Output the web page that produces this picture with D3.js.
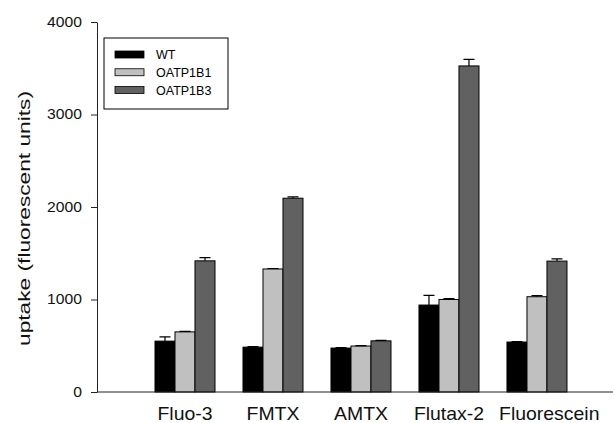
<!DOCTYPE html>
<html>
<head>
<meta charset="utf-8">
<script src="https://cdn.jsdelivr.net/npm/d3@7"></script>
<style>
  body { margin: 0; background: #fff; }
  text { font-family: "Liberation Sans", Arial, sans-serif; }
</style>
</head>
<body>
<svg width="615" height="423"></svg>
<script>
// data
var compounds = ["Fluo-3", "FMTX", "AMTX", "Flutax-2", "Fluorescein"];
var seriesNames = ["WT", "OATP1B1", "OATP1B3"];
var wtValues = [550, 485, 475, 940, 540];
var wtErrors = [45, 5, 5, 105, 5];
var b1Values = [650, 1330, 497, 1000, 1030];
var b1Errors = [5, 5, 5, 10, 12];
var b3Values = [1418, 2095, 553, 3525, 1415];
var b3Errors = [35, 15, 5, 70, 25];
var yTicks = [0, 1000, 2000, 3000, 4000];
var colors = ["#000000", "#c0c0c0", "#616161"];

var svg = d3.select("svg");
var margins = { top: 22, left: 97, right: 2, bottom: 31 };
var width = 615 - margins.left - margins.right;
var height = 423 - margins.top - margins.bottom;

var series = [
  { name: seriesNames[0], values: wtValues, errors: wtErrors },
  { name: seriesNames[1], values: b1Values, errors: b1Errors },
  { name: seriesNames[2], values: b3Values, errors: b3Errors }
];

// group centres sit at 1..5 on a linear scale
var xScale = d3.scaleLinear().domain([0, 5.864]).range([0, width]);
var yScale = d3.scaleLinear().domain([0, 4000]).range([height, 0]);
var barW = 20;

var g = svg.append("g").attr("transform", `translate(${margins.left},${margins.top})`);

// bars
series.forEach(function (s, si) {
  var sg = g.append("g");
  sg.selectAll("rect").data(s.values).enter().append("rect")
    .attr("x", function (d, i) { return xScale(i + 1) + (si - 1.5) * barW; })
    .attr("y", function (d) { return yScale(d); })
    .attr("width", barW)
    .attr("height", function (d) { return height - yScale(d); })
    .attr("fill", colors[si])
    .attr("stroke", "#000")
    .attr("stroke-width", 1);

  // upward error bars
  sg.selectAll("path.err").data(s.values).enter().append("path")
    .attr("class", "err")
    .attr("d", function (d, i) {
      var cx = xScale(i + 1) + (si - 1) * barW;
      var top = yScale(d + s.errors[i]);
      return `M${cx},${yScale(d)}V${top}M${cx - 5.5},${top}H${cx + 5.5}`;
    })
    .attr("stroke", "#000")
    .attr("stroke-width", 1.2)
    .attr("fill", "none");
});

// y axis
var yAxis = g.append("g")
  .call(d3.axisLeft(yScale).tickValues(yTicks).tickFormat(d3.format("d"))
    .tickSize(6).tickPadding(0).tickSizeOuter(0));
yAxis.select(".domain").attr("stroke", "#222");
yAxis.selectAll(".tick line").attr("stroke", "#222");
yAxis.selectAll(".tick text")
  .attr("x", null)
  .attr("font-size", 14).attr("fill", "#111")
  .attr("font-family", "Liberation Sans, Arial, sans-serif")
  .attr("transform", "translate(-15,0) scale(1.12,1)");

// x axis line and labels
g.append("line")
  .attr("x1", 0).attr("x2", width)
  .attr("y1", height).attr("y2", height)
  .attr("stroke", "#222");

var xlabs = g.selectAll("text.xlab").data(compounds).enter().append("text")
  .attr("class", "xlab")
  .attr("text-anchor", "middle")
  .attr("font-size", 18)
  .attr("fill", "#111")
  .text(function (d) { return d; });

// keep labels inside the axis end: shift the last one left-aligned if it would run over
xlabs.attr("transform", function (d, i) {
  var cx = xScale(i + 1);
  var w = this.getComputedTextLength() * 1.08;
  var maxRight = width - 6;
  var prevRight = i > 0 ? xScale(i) + 40 : -Infinity;
  if (cx - w / 2 < prevRight + 10) cx = prevRight + 10 + w / 2;
  if (cx + w / 2 > maxRight) cx = maxRight - w / 2;
  return `translate(${cx},${height + 28}) scale(1.08,1)`;
});

// y axis title
svg.append("text")
  .attr("transform", "translate(30," + 218.5 + ") rotate(-90)")
  .attr("text-anchor", "middle")
  .attr("font-size", 17)
  .attr("fill", "#111")
  .attr("textLength", 255)
  .attr("lengthAdjust", "spacingAndGlyphs")
  .text("uptake (fluorescent units)");

// legend
var legend = svg.append("g").attr("transform", "translate(104,38)");
legend.append("rect")
  .attr("width", 124).attr("height", 71)
  .attr("fill", "#fff").attr("stroke", "#000").attr("stroke-width", 1);
series.forEach(function (s, si) {
  var row = legend.append("g").attr("transform", `translate(0,${16.5 + si * 17.75})`);
  row.append("rect")
    .attr("x", 11).attr("y", -3.5).attr("width", 29).attr("height", 7)
    .attr("fill", colors[si]).attr("stroke", "#000").attr("stroke-width", 0.8);
  row.append("text")
    .attr("x", 52).attr("y", 4.5)
    .attr("font-size", 12.5)
    .text(s.name);
});
</script>
</body>
</html>
